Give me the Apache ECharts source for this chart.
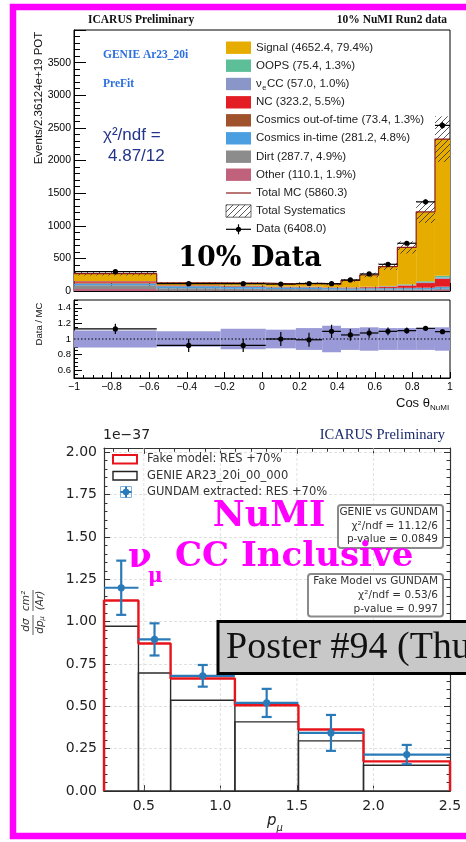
<!DOCTYPE html>
<html><head><meta charset="utf-8">
<script src="https://cdn.jsdelivr.net/npm/echarts@6/dist/echarts.min.js"></script>
<style>html,body{margin:0;padding:0;background:#fff}#c{width:466px;height:842px}</style>
</head><body><div id="c"></div>
<script>
// ===== Top panel: ICARUS NuMI stacked histogram (events per bin) =====
const binEdges = [-1, -0.56, -0.22, 0.02, 0.18, 0.32, 0.42, 0.52, 0.62, 0.72, 0.82, 0.92, 1.0];
const other            = [30, 8, 6, 5, 5, 4, 5, 6, 7, 8, 10, 16];
const dirt             = [60, 35, 30, 25, 25, 20, 15, 15, 15, 15, 15, 18];
const cosmicsInTime    = [25, 30, 30, 25, 25, 20, 20, 20, 20, 20, 20, 26];
const cosmicsOutOfTime = [10, 6, 6, 5, 5, 5, 5, 5, 5, 6, 7, 8];
const ncBkg            = [25, 8, 8, 6, 6, 6, 8, 12, 20, 35, 70, 119];
const nueCC            = [1, 1, 1, 1, 1, 1, 2, 3, 5, 8, 13, 20];
const oops             = [2, 2, 2, 2, 2, 2, 3, 4, 6, 10, 15, 25];
const signal           = [112, 35, 37, 39, 49, 46, 104, 180, 297, 566, 1062, 2096];
const dataCounts       = [296, 112, 112, 106, 115, 112, 169, 261, 409, 732, 1366, 2538];
const dataErrors       = [17, 11, 11, 10, 11, 11, 13, 16, 20, 27, 37, 50];
const sysFraction      = [0.11, 0.10, 0.13, 0.12, 0.14, 0.17, 0.14, 0.15, 0.14, 0.14, 0.14, 0.15];
const ratioValues      = [1.129, 0.917, 0.917, 1.0, 0.99, 1.098, 1.052, 1.077, 1.098, 1.107, 1.137, 1.094];
const ratioErrors      = [0.065, 0.085, 0.085, 0.09, 0.09, 0.085, 0.075, 0.06, 0.05, 0.04, 0.027, 0.02];
const mainYTicks = [0, 500, 1000, 1500, 2000, 2500, 3000, 3500];
const ratioYTicks = [0.6, 0.8, 1, 1.2, 1.4];
const legendLabels = ['Signal (4652.4, 79.4%)', 'OOPS (75.4, 1.3%)', 'CC (57.0, 1.0%)', 'NC (323.2, 5.5%)',
  'Cosmics out-of-time (73.4, 1.3%)', 'Cosmics in-time (281.2, 4.8%)', 'Dirt (287.7, 4.9%)', 'Other (110.1, 1.9%)',
  'Total MC (5860.3)', 'Total Systematics', 'Data (6408.0)'];

// ===== Bottom panel: d sigma / d p_mu (x 1e-37) =====
const pEdges = [0.24, 0.465, 0.675, 1.095, 1.51, 1.935, 2.5];
const fakeModel = [1.125, 0.871, 0.664, 0.506, 0.363, 0.175];
const genieNominal = [0.973, 0.697, 0.536, 0.408, 0.296, 0.152];
const gundamExtracted = [1.20, 0.895, 0.68, 0.52, 0.343, 0.215];
const gundamErrors = [0.16, 0.095, 0.064, 0.083, 0.106, 0.057];
const pTicks = [0.5, 1.0, 1.5, 2.0, 2.5];
const pMinorTicks = [0.3, 0.4, 0.6, 0.7, 0.8, 0.9, 1.1, 1.2, 1.3, 1.4, 1.6, 1.7, 1.8, 1.9, 2.1, 2.2, 2.3, 2.4];
const bottomLegend = ['Fake model: RES +70%', 'GENIE AR23_20i_00_000', 'GUNDAM extracted: RES +70%'];

// ---------- styles ----------
const compColors = {
  other: '#c0627c', dirt: '#8c8c8c', cin: '#4b9fe0', cout: '#a0522d',
  nc: '#e41d25', nue: '#8a96c8', oops: '#5cbf98', signal: '#e6ad00'
};
const stackOrder = [
  [other, compColors.other, 'Other'], [dirt, compColors.dirt, 'Dirt'],
  [cosmicsInTime, compColors.cin, 'Cosmics in-time'], [cosmicsOutOfTime, compColors.cout, 'Cosmics out-of-time'],
  [ncBkg, compColors.nc, 'NC'], [nueCC, compColors.nue, 'nueCC'], [oops, compColors.oops, 'OOPS'],
  [signal, compColors.signal, 'Signal']
];
const legendColors = [compColors.signal, compColors.oops, compColors.nue, compColors.nc, compColors.cout, compColors.cin, compColors.dirt, compColors.other];

const hatch = (function () {
  const c = document.createElement('canvas'); c.width = 6; c.height = 6;
  const g = c.getContext('2d'); g.strokeStyle = 'rgba(35,35,35,0.85)'; g.lineWidth = 0.9;
  g.beginPath(); g.moveTo(0, 6); g.lineTo(6, 0); g.moveTo(-3, 3); g.lineTo(3, -3); g.moveTo(3, 9); g.lineTo(9, 3); g.stroke();
  return c;
})();
const hatchFill = { image: hatch, repeat: 'repeat' };

function rectRender(params, api) {
  const a = api.coord([api.value(0), api.value(3)]);
  const b = api.coord([api.value(1), api.value(2)]);
  return { type: 'rect', shape: { x: a[0], y: a[1], width: b[0] - a[0], height: b[1] - a[1] }, style: api.style() };
}

// stacked components
const series = [];
const base = binEdges.slice(0, -1).map(() => 0);
stackOrder.forEach(([vals, color, name]) => {
  const data = vals.map((v, i) => [binEdges[i], binEdges[i + 1], base[i], base[i] + v]);
  vals.forEach((v, i) => { base[i] += v; });
  series.push({ type: 'custom', name, xAxisIndex: 0, yAxisIndex: 0, itemStyle: { color },
    encode: { x: [0, 1], y: [2, 3] }, data, renderItem: rectRender, silent: true });
});
const totalMC = base.slice();

// systematics hatch
series.push({ type: 'custom', xAxisIndex: 0, yAxisIndex: 0, encode: { x: [0, 1], y: [2, 3] },
  data: totalMC.map((m, i) => [binEdges[i], binEdges[i + 1], m * (1 - sysFraction[i]), m * (1 + sysFraction[i])]),
  renderItem: function (params, api) {
    const a = api.coord([api.value(0), api.value(3)]);
    const b = api.coord([api.value(1), api.value(2)]);
    return { type: 'rect', shape: { x: a[0], y: a[1], width: b[0] - a[0], height: b[1] - a[1] }, style: { fill: hatchFill, stroke: null } };
  }, silent: true });

function stepPoints(edges, vals, closeToZero) {
  const pts = [];
  if (closeToZero) pts.push([edges[0], 0]);
  vals.forEach((v, i) => { pts.push([edges[i], v]); pts.push([edges[i + 1], v]); });
  if (closeToZero) pts.push([edges[edges.length - 1], 0]);
  return pts;
}
// total MC line
series.push({ type: 'line', xAxisIndex: 0, yAxisIndex: 0, data: stepPoints(binEdges, totalMC, false),
  symbol: 'none', lineStyle: { color: '#8b1c1c', width: 1.2 }, silent: true, animation: false });

function pointRender(capHalf, r, color, lw) {
  return function (params, api) {
    const lo = api.value(0), hi = api.value(1), c = api.value(2), v = api.value(3), e = api.value(4);
    const L = api.coord([lo, v]), R = api.coord([hi, v]), C = api.coord([c, v]);
    const T = api.coord([c, v + e]), B = api.coord([c, v - e]);
    const ch = [
      { type: 'line', shape: { x1: L[0], y1: L[1], x2: R[0], y2: R[1] }, style: { stroke: color, lineWidth: lw } },
      { type: 'line', shape: { x1: T[0], y1: T[1], x2: B[0], y2: B[1] }, style: { stroke: color, lineWidth: lw } },
      { type: 'circle', shape: { cx: C[0], cy: C[1], r }, style: { fill: color } }
    ];
    if (capHalf > 0) {
      ch.push({ type: 'line', shape: { x1: T[0] - capHalf, y1: T[1], x2: T[0] + capHalf, y2: T[1] }, style: { stroke: color, lineWidth: lw } });
      ch.push({ type: 'line', shape: { x1: B[0] - capHalf, y1: B[1], x2: B[0] + capHalf, y2: B[1] }, style: { stroke: color, lineWidth: lw } });
    }
    return { type: 'group', children: ch };
  };
}
// data points (main)
series.push({ type: 'custom', xAxisIndex: 0, yAxisIndex: 0, encode: { x: [0, 1], y: 3 },
  data: dataCounts.map((v, i) => [binEdges[i], binEdges[i + 1], (binEdges[i] + binEdges[i + 1]) / 2, v, dataErrors[i]]),
  renderItem: pointRender(0, 2.6, '#000', 1.2), z: 5, silent: true });

// ratio band
series.push({ type: 'custom', xAxisIndex: 1, yAxisIndex: 1, itemStyle: { color: '#9a9ad8' }, encode: { x: [0, 1], y: [2, 3] },
  data: sysFraction.map((f, i) => [binEdges[i], binEdges[i + 1], 1 - f, 1 + f]), renderItem: rectRender, silent: true });
series.push({ type: 'line', xAxisIndex: 1, yAxisIndex: 1, data: [[binEdges[0], 1], [binEdges[binEdges.length - 1], 1]],
  symbol: 'none', lineStyle: { color: '#000', width: 1, type: [1.5, 2] }, silent: true, animation: false });
series.push({ type: 'custom', xAxisIndex: 1, yAxisIndex: 1, encode: { x: [0, 1], y: 3 },
  data: ratioValues.map((v, i) => [binEdges[i], binEdges[i + 1], (binEdges[i] + binEdges[i + 1]) / 2, v, ratioErrors[i]]),
  renderItem: pointRender(0, 2.6, '#000', 1.2), z: 5, silent: true });

// ---- bottom plot ----
const BMAX = 2.025;
series.push({ type: 'custom', xAxisIndex: 2, yAxisIndex: 3, data: pTicks.slice(0, -1).map(v => [v]), encode: { x: 0 },
  renderItem: function (params, api) {
    const a = api.coord([api.value(0), 0]), b = api.coord([api.value(0), BMAX]);
    return { type: 'line', shape: { x1: a[0], y1: a[1], x2: b[0], y2: b[1] }, style: { stroke: '#d9d9d9', lineWidth: 0.8, lineDash: [3, 2] } };
  }, silent: true, z: 1 });
series.push({ type: 'custom', xAxisIndex: 2, yAxisIndex: 3, encode: { x: [0, 1], y: [2, 3] },
  data: genieNominal.map((v, i) => [pEdges[i], pEdges[i + 1], 0, v]),
  renderItem: function (params, api) {
    const a = api.coord([api.value(0), api.value(3)]);
    const b = api.coord([api.value(1), api.value(2)]);
    return { type: 'rect', shape: { x: a[0], y: a[1], width: b[0] - a[0], height: b[1] - a[1] }, style: { fill: null, stroke: '#2a2a2a', lineWidth: 1.4 } };
  }, silent: true, z: 3 });
series.push({ type: 'line', xAxisIndex: 2, yAxisIndex: 3, data: stepPoints(pEdges, fakeModel, true),
  symbol: 'none', lineStyle: { color: '#e8141c', width: 2.4 }, silent: true, animation: false, z: 4 });
series.push({ type: 'custom', xAxisIndex: 2, yAxisIndex: 3, encode: { x: [0, 1], y: 3 },
  data: gundamExtracted.map((v, i) => [pEdges[i], pEdges[i + 1], (pEdges[i] + pEdges[i + 1]) / 2, v, gundamErrors[i]]),
  renderItem: pointRender(5, 3.6, '#2a7ab8', 2.2), silent: true, z: 5 });

// ---------- axes ----------
const rootFont = '"Liberation Sans", Arial, sans-serif';
const mplFont = '"DejaVu Sans", sans-serif';
function mainMinus(v) { const s = String(Math.round(v * 10) / 10); return s.replace('-', '\u2212'); }

const xAxes = [
  { gridIndex: 0, type: 'value', min: -1, max: 1, interval: 0.2, axisLabel: { show: false },
    axisLine: { onZero: false, lineStyle: { color: '#000', width: 1 } }, axisTick: { inside: true, length: 8, lineStyle: { color: '#000' } },
    minorTick: { show: true, splitNumber: 4, length: 4, lineStyle: { color: '#000' } }, splitLine: { show: false } },
  { gridIndex: 1, type: 'value', min: -1, max: 1, interval: 0.2,
    axisLabel: { formatter: mainMinus, fontFamily: rootFont, fontSize: 10.5, color: '#000', margin: 4 },
    axisLine: { onZero: false, lineStyle: { color: '#000', width: 1 } }, axisTick: { inside: true, length: 6, lineStyle: { color: '#000' } },
    minorTick: { show: true, splitNumber: 4, length: 3, lineStyle: { color: '#000' } }, splitLine: { show: false } },
  { gridIndex: 2, type: 'value', min: pEdges[0], max: pEdges[pEdges.length - 1],
    axisLabel: { customValues: pTicks, formatter: v => v.toFixed(1), fontFamily: mplFont, fontSize: 14, color: '#222', margin: 8 },
    axisTick: { customValues: pTicks, inside: true, length: 6, lineStyle: { color: '#333' } },
    axisLine: { onZero: false, lineStyle: { color: '#333', width: 1.2 } }, splitLine: { show: false } },
  { gridIndex: 2, type: 'value', min: pEdges[0], max: pEdges[pEdges.length - 1], axisLabel: { show: false },
    axisTick: { customValues: pMinorTicks, inside: true, length: 3.5, lineStyle: { color: '#333' } },
    axisLine: { show: false, onZero: false }, splitLine: { show: false } },
  { gridIndex: 2, type: 'value', position: 'top', min: pEdges[0], max: pEdges[pEdges.length - 1], axisLabel: { show: false },
    axisTick: { customValues: pTicks, inside: true, length: 6, lineStyle: { color: '#333' } },
    axisLine: { onZero: false, lineStyle: { color: '#333', width: 1.2 } }, splitLine: { show: false } },
  { gridIndex: 2, type: 'value', position: 'top', min: pEdges[0], max: pEdges[pEdges.length - 1], axisLabel: { show: false },
    axisTick: { customValues: pMinorTicks, inside: true, length: 3.5, lineStyle: { color: '#333' } },
    axisLine: { show: false, onZero: false }, splitLine: { show: false } }
];
const yAxes = [
  { gridIndex: 0, type: 'value', position: 'left', min: 0, max: 4000, interval: 500,
    axisLabel: { formatter: v => (mainYTicks.indexOf(v) >= 0 ? String(v) : ''), fontFamily: rootFont, fontSize: 10.5, color: '#000', margin: 3 },
    axisLine: { show: true, onZero: false, lineStyle: { color: '#000', width: 1 } }, axisTick: { show: true, inside: true, length: 12, lineStyle: { color: '#000' } },
    minorTick: { show: true, splitNumber: 5, length: 6, lineStyle: { color: '#000' } }, splitLine: { show: false } },
  { gridIndex: 1, type: 'value', position: 'left', min: 0.5, max: 1.5,
    axisLabel: { customValues: ratioYTicks, formatter: v => (Math.abs(v - 1) < 1e-9 ? '1' : v.toFixed(1)), fontFamily: rootFont, fontSize: 9.5, color: '#000', margin: 3 },
    axisLine: { show: true, onZero: false, lineStyle: { color: '#000', width: 1 } },
    axisTick: { show: true, customValues: ratioYTicks, inside: true, length: 8, lineStyle: { color: '#000' } }, splitLine: { show: false } },
  { gridIndex: 1, type: 'value', position: 'left', min: 0.5, max: 1.5, interval: 0.05, axisLabel: { show: false },
    axisLine: { show: false, onZero: false }, axisTick: { show: true, inside: true, length: 4, lineStyle: { color: '#000' } }, splitLine: { show: false } },
  { gridIndex: 2, type: 'value', position: 'left', min: 0, max: BMAX, interval: 0.25,
    axisLabel: { formatter: v => (Math.abs(v / 0.25 - Math.round(v / 0.25)) < 1e-6 ? v.toFixed(2) : ''), fontFamily: mplFont, fontSize: 14, color: '#222', margin: 7 },
    axisLine: { show: true, onZero: false, lineStyle: { color: '#333', width: 1.2 } }, axisTick: { show: true, inside: true, length: 6, lineStyle: { color: '#333' } },
    minorTick: { show: true, splitNumber: 5, length: 3.5, lineStyle: { color: '#333' } },
    splitLine: { show: true, lineStyle: { color: '#d9d9d9', width: 0.8, type: [3, 2] } } },
  { gridIndex: 2, type: 'value', position: 'right', min: 0, max: BMAX, interval: 0.25, axisLabel: { show: false },
    axisLine: { show: true, onZero: false, lineStyle: { color: '#333', width: 1.2 } }, axisTick: { show: true, inside: true, length: 6, lineStyle: { color: '#333' } },
    minorTick: { show: true, splitNumber: 5, length: 3.5, lineStyle: { color: '#333' } }, splitLine: { show: false } }
];

// ---------- graphics ----------
function T(text, x, y, font, fill, align, extra) {
  return Object.assign({ type: 'text', x, y, z: 100,
    style: { text, font, fill: fill || '#000', textFill: fill || '#000', align: align || 'left', textAlign: align || 'left', verticalAlign: 'middle', textVerticalAlign: 'middle' } }, extra || {});
}
const g = [];
// magenta frame (continues past the right edge)
g.push({ type: 'rect', z: 120, shape: { x: 13, y: 7, width: 480, height: 829 }, style: { fill: null, stroke: '#ff00ff', lineWidth: 6.5 } });
// top headers
g.push(T('ICARUS Preliminary', 88, 20, 'bold 11.5px "Liberation Serif", serif', '#111'));
g.push(T('10% NuMI Run2 data', 447, 20, 'bold 11.5px "Liberation Serif", serif', '#111', 'right'));
g.push(T('Events/2.36124e+19 POT', 39, 98, '11.5px ' + rootFont, '#111', 'center', { rotation: Math.PI / 2 }));
g.push(T('Data / MC', 39, 324, '9.5px ' + rootFont, '#111', 'center', { rotation: Math.PI / 2 }));
g.push(T('Cos \u03b8', 396, 403, '13px ' + rootFont, '#111'));
g.push(T('NuMI', 430, 408, '8px ' + rootFont, '#111'));
g.push(T('GENIE Ar23_20i', 103, 55, 'bold 11.5px "Liberation Serif", serif', '#2b6fe0'));
g.push(T('PreFit', 103, 84, 'bold 11.5px "Liberation Serif", serif', '#2b6fe0'));
g.push(T('\u03c7\u00b2/ndf =', 103, 135, '17px ' + rootFont, '#23358a'));
g.push(T('4.87/12', 108, 156, '17px ' + rootFont, '#23358a'));
// top legend
const rowY = [47.7, 65.7, 84, 102.3, 120.3, 138.3, 156.7, 174.7, 193, 211, 229.3];
legendLabels.forEach((lab, i) => {
  const y = rowY[i];
  if (i < 8) {
    g.push({ type: 'rect', z: 50, shape: { x: 226, y: y - 6.2, width: 25, height: 12.4 }, style: { fill: legendColors[i] } });
  } else if (i === 8) {
    g.push({ type: 'line', z: 50, shape: { x1: 226, y1: y, x2: 251, y2: y }, style: { stroke: '#8b1c1c', lineWidth: 1.2 } });
  } else if (i === 9) {
    g.push({ type: 'rect', z: 50, shape: { x: 226, y: y - 6.2, width: 25, height: 12.4 }, style: { fill: hatchFill, stroke: '#444', lineWidth: 0.8 } });
  } else {
    g.push({ type: 'line', z: 50, shape: { x1: 226, y1: y, x2: 251, y2: y }, style: { stroke: '#000', lineWidth: 1.2 } });
    g.push({ type: 'line', z: 50, shape: { x1: 238.5, y1: y - 5, x2: 238.5, y2: y + 5 }, style: { stroke: '#000', lineWidth: 1.2 } });
    g.push({ type: 'circle', z: 50, shape: { cx: 238.5, cy: y, r: 2.6 }, style: { fill: '#000' } });
  }
  if (i === 2) {
    g.push(T('\u03bd', 256, y, '11.5px ' + rootFont, '#222'));
    g.push(T('e', 262.3, y + 3.5, '7.5px ' + rootFont, '#222'));
    g.push(T(lab, 267, y, '11.5px ' + rootFont, '#222'));
  } else {
    g.push(T(lab, 256, y, '11.5px ' + rootFont, '#222'));
  }
});
g.push(T('10% Data', 250, 259, 'bold 27px "DejaVu Serif", serif', '#000', 'center'));

// bottom plot annotations
g.push(T('1e\u221237', 103, 435, '14px ' + mplFont, '#222'));
g.push(T('ICARUS Preliminary', 445, 435, '14.5px "Liberation Serif", serif', '#1a2a6c', 'right'));
g.push({ type: 'rect', z: 50, shape: { x: 113, y: 455, width: 24, height: 8.5 }, style: { fill: null, stroke: '#e8141c', lineWidth: 2 } });
g.push({ type: 'rect', z: 50, shape: { x: 113, y: 471.5, width: 24, height: 8.5 }, style: { fill: null, stroke: '#222', lineWidth: 1.4 } });
g.push({ type: 'rect', z: 50, shape: { x: 120.5, y: 486.5, width: 11, height: 11 }, style: { fill: null, stroke: '#7fb2dc', lineWidth: 1 } });
g.push({ type: 'line', z: 51, shape: { x1: 126, y1: 486.5, x2: 126, y2: 497.5 }, style: { stroke: '#2a7ab8', lineWidth: 2 } });
g.push({ type: 'line', z: 51, shape: { x1: 120.5, y1: 492, x2: 131.5, y2: 492 }, style: { stroke: '#2a7ab8', lineWidth: 2 } });
g.push({ type: 'circle', z: 52, shape: { cx: 126, cy: 492, r: 3.3 }, style: { fill: '#2a7ab8' } });
bottomLegend.forEach((lab, i) => g.push(T(lab, 147, [459.3, 475.7, 491.7][i], '11.5px ' + mplFont, '#333')));
// stat boxes
g.push({ type: 'rect', z: 60, shape: { x: 338, y: 505, width: 105, height: 43, r: 3 }, style: { fill: '#fff', stroke: '#8a8a8a', lineWidth: 2 } });
g.push(T('GENIE vs GUNDAM', 438, 512, '10.5px ' + mplFont, '#333', 'right'));
g.push(T('\u03c7\u00b2/ndf = 11.12/6', 438, 526.5, '10.5px ' + mplFont, '#333', 'right'));
g.push(T('p-value = 0.0849', 438, 539.5, '10.5px ' + mplFont, '#333', 'right'));
g.push({ type: 'rect', z: 60, shape: { x: 308, y: 574, width: 135, height: 42.5, r: 3 }, style: { fill: '#fff', stroke: '#8a8a8a', lineWidth: 2 } });
g.push(T('Fake Model vs GUNDAM', 438, 581, '10.5px ' + mplFont, '#333', 'right'));
g.push(T('\u03c7\u00b2/ndf = 0.53/6', 438, 595.5, '10.5px ' + mplFont, '#333', 'right'));
g.push(T('p-value = 0.997', 438, 609.3, '10.5px ' + mplFont, '#333', 'right'));
// axis titles
g.push(T('p', 267, 821, 'italic 15px ' + mplFont, '#222'));
g.push(T('\u03bc', 276.5, 828, 'italic 10px ' + mplFont, '#222'));
g.push({ type: 'group', x: 33, y: 613, rotation: Math.PI / 2, z: 100, children: [
  T('d\u03c3', -12, -7, 'italic 10.5px ' + mplFont, '#333', 'center'),
  { type: 'line', shape: { x1: -22, y1: 0, x2: -2, y2: 0 }, style: { stroke: '#333', lineWidth: 0.8 } },
  T('dp', -14, 7, 'italic 10.5px ' + mplFont, '#333', 'center'),
  T('\u03bc', -5.5, 9.5, 'italic 7px ' + mplFont, '#333', 'center'),
  T('cm\u00b2', 12, -7, 'italic 10.5px ' + mplFont, '#333', 'center'),
  { type: 'line', shape: { x1: 2, y1: 0, x2: 23, y2: 0 }, style: { stroke: '#333', lineWidth: 0.8 } },
  T('(Ar)', 12.5, 7, 'italic 10.5px ' + mplFont, '#333', 'center')
] });
// overlays
g.push(T('NuMI', 269, 517, 'bold 35px "DejaVu Serif", serif', '#ff00ff', 'center', { z: 110 }));
g.push(T('\u03bd', 128, 558, 'bold 34px "DejaVu Serif", serif', '#ff00ff', 'left', { z: 110 }));
g.push(T('\u03bc', 148, 577, 'bold 20px "DejaVu Serif", serif', '#ff00ff', 'left', { z: 110 }));
g.push(T('CC Inclusive', 175, 557, 'bold 34px "DejaVu Serif", serif', '#ff00ff', 'left', { z: 110 }));
g.push({ type: 'rect', z: 115, shape: { x: 218, y: 621.5, width: 260, height: 52 }, style: { fill: '#c8c8c8', stroke: '#000', lineWidth: 3 } });
g.push(T('Poster #94 (Thu', 226, 648, '38px "Liberation Serif", serif', '#111', 'left', { z: 116 }));

const option = {
  animation: false,
  backgroundColor: '#fff',
  grid: [
    { left: 74, top: 30, width: 376, height: 261, show: true, borderColor: '#000', borderWidth: 1, backgroundColor: 'transparent' },
    { left: 74, top: 300, width: 376, height: 78, show: true, borderColor: '#000', borderWidth: 1, backgroundColor: 'transparent' },
    { left: 104, top: 448, width: 346, height: 343, show: false }
  ],
  xAxis: xAxes,
  yAxis: yAxes,
  series,
  graphic: { elements: g }
};
const chart = echarts.init(document.getElementById('c'), null, { renderer: 'canvas', width: 466, height: 842 });
chart.setOption(option);
</script>
</body></html>
